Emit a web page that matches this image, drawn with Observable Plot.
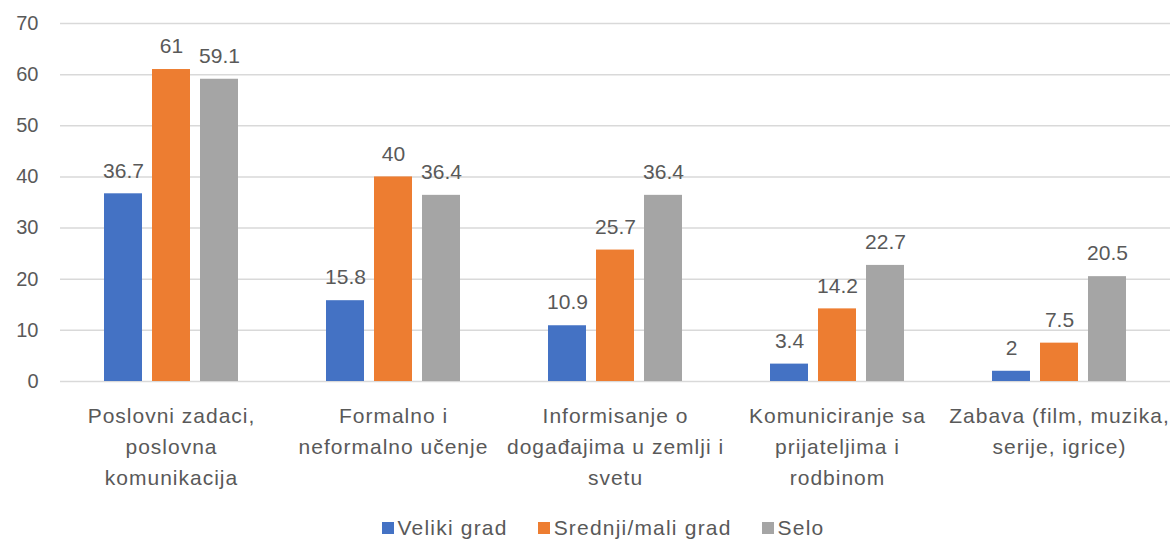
<!DOCTYPE html>
<html>
<head>
<meta charset="utf-8">
<script src="https://cdn.jsdelivr.net/npm/d3@7"></script>
<script src="https://cdn.jsdelivr.net/npm/@observablehq/plot@0.6"></script>
<style>
  html, body { margin: 0; padding: 0; background: #fff; }
  #chart { width: 1172px; }
  .legend { display: flex; justify-content: center; align-items: center; gap: 30px; height: 42px; padding-left: 34px;
    font-family: "Liberation Sans", Arial, sans-serif; font-size: 21px; letter-spacing: 1.2px; color: #595959; box-sizing: border-box; padding-top: 13px; }
  .legend span.sw { display: inline-block; width: 12px; height: 12px; margin-right: 4px; vertical-align: middle; position: relative; top: -1px; }
  g[aria-label="fx-axis tick label"] text { letter-spacing: 1px; }
</style>
</head>
<body>
<div id="chart"></div>
<script>
const categories = [
  "Poslovni zadaci,\nposlovna\nkomunikacija",
  "Formalno i\nneformalno učenje",
  "Informisanje o\ndogađajima u zemlji i\nsvetu",
  "Komuniciranje sa\nprijateljima i\nrodbinom",
  "Zabava (film, muzika,\nserije, igrice)"
];
const seriesNames = ["Veliki grad", "Srednji/mali grad", "Selo"];
const velikiGrad = [36.7, 15.8, 10.9, 3.4, 2];
const srednjiMaliGrad = [61, 40, 25.7, 14.2, 7.5];
const selo = [59.1, 36.4, 36.4, 22.7, 20.5];
const yTicks = [0, 10, 20, 30, 40, 50, 60, 70];
const colors = ["#4472C4", "#ED7D31", "#A5A5A5"];

const seriesValues = [velikiGrad, srednjiMaliGrad, selo];
const rows = [];
categories.forEach((c, i) => {
  seriesNames.forEach((s, j) => rows.push({ category: c, series: s, value: seriesValues[j][i] }));
});

const font = "Liberation Sans, Arial, sans-serif";
const chart = Plot.plot({
  width: 1172,
  height: 500,
  marginLeft: 60,
  marginRight: 2,
  marginTop: 23,
  marginBottom: 119,
  style: { fontFamily: font, fontSize: "20px", color: "#595959", background: "#fff" },
  fx: { domain: categories, padding: 0, label: null, axis: null },
  x: { domain: seriesNames, paddingInner: 0.2, paddingOuter: 0.87, axis: null, label: null },
  y: { domain: [0, 70], ticks: yTicks, label: null, axis: null },
  color: { domain: seriesNames, range: colors },
  marks: [
    Plot.gridY(yTicks, { stroke: "#d9d9d9", strokeOpacity: 1, strokeWidth: 1.5 }),
    Plot.axisY(yTicks, { tickSize: 0, tickPadding: 22, fontSize: 20, fill: "#595959", label: null }),
    Plot.axisFx({ anchor: "bottom", tickSize: 0, tickPadding: 19, fontSize: 21, lineHeight: 1.48, fill: "#595959", label: null }),
    Plot.barY(rows, { fx: "category", x: "series", y: "value", fill: "series" }),
    Plot.text(rows, { fx: "category", x: "series", y: "value", text: d => String(d.value), dy: -23, fontSize: 21, fill: "#595959" })
  ]
});
document.getElementById("chart").appendChild(chart);

const legend = document.createElement("div");
legend.className = "legend";
seriesNames.forEach((s, i) => {
  const item = document.createElement("div");
  item.innerHTML = `<span class="sw" style="background:${colors[i]}"></span>${s}`;
  legend.appendChild(item);
});
document.getElementById("chart").appendChild(legend);
</script>
</body>
</html>
